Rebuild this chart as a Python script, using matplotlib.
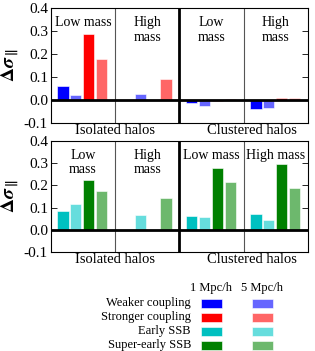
import matplotlib.pyplot as plt
from matplotlib.patches import Rectangle

plt.rcParams['font.family'] = ['Liberation Serif', 'DejaVu Serif']
plt.rcParams['mathtext.fontset'] = 'stix'

# sections: isolated low, isolated high, clustered low, clustered high
sections = ['Low mass', 'High mass', 'Low mass', 'High mass']

# top panel: coupling models (1 Mpc/h, 5 Mpc/h)
weak_1 = [0.059, 0.0, -0.015, -0.038]
weak_5 = [0.022, 0.025, -0.027, -0.034]
strong_1 = [0.287, 0.0, -0.005, 0.010]
strong_5 = [0.176, 0.090, 0.005, 0.007]

# bottom panel: SSB models
early_1 = [0.085, 0.0, 0.063, 0.072]
early_5 = [0.118, 0.066, 0.058, 0.045]
super_1 = [0.223, 0.0, 0.280, 0.296]
super_5 = [0.177, 0.142, 0.214, 0.189]

top_labels = ['Low mass', 'High\nmass', 'Low\nmass', 'High\nmass']
bot_labels = ['Low\nmass', 'High\nmass', 'Low mass', 'High mass']

legend_names = ['Weaker coupling', 'Stronger coupling', 'Early SSB', 'Super-early SSB']
colors_1 = ['#0000ff', '#ff0000', '#00c0c0', '#008000']
colors_5 = ['#6666ff', '#ff6666', '#66dddd', '#6db86d']

fig = plt.figure(figsize=(3.15, 3.51), dpi=100)
ax1 = fig.add_axes([0.161, 0.650, 0.817, 0.327])
ax2 = fig.add_axes([0.161, 0.282, 0.817, 0.316])

w = 0.175
offsets = [0.19, 0.39, 0.59, 0.79]


def draw_panel(ax, series, cols, labels):
    for k, (vals, c) in enumerate(zip(series, cols)):
        xs = [i + offsets[k] for i in range(4)]
        ax.bar(xs, vals, width=w, color=c, edgecolor='white', linewidth=0.4, zorder=2)
    ax.set_xlim(0, 4)
    ax.set_ylim(-0.1, 0.4)
    ax.axhline(0, color='black', lw=2, zorder=3)
    ax.axvline(2, color='black', lw=2)
    ax.axvline(1, color='#555555', lw=0.8)
    ax.axvline(3, color='#555555', lw=0.8)
    ax.set_xticks([])
    ax.set_yticks([-0.1, 0.0, 0.1, 0.2, 0.3, 0.4])
    ax.set_yticklabels(['-0.1', '0.0', '0.1', '0.2', '0.3', '0.4'], fontsize=11)
    ax.tick_params(axis='y', direction='in', right=True, length=4, width=0.6, pad=2)
    for s in ax.spines.values():
        s.set_linewidth(0.8)
    for i, lab in enumerate(labels):
        ax.text(i + 0.5, 0.365, lab, ha='center', va='top', fontsize=10,
                linespacing=1.15)
    ax.set_ylabel(r'$\mathbf{\Delta}\boldsymbol{\sigma}_{\mathbf{\parallel}}$',
                  fontsize=14, labelpad=2)
    ax.text(1.0, -0.105, 'Isolated halos', ha='center', va='top', fontsize=10.5)
    ax.text(3.13, -0.105, 'Clustered halos', ha='center', va='top', fontsize=10.5)


draw_panel(ax1, [weak_1, weak_5, strong_1, strong_5],
           [colors_1[0], colors_5[0], colors_1[1], colors_5[1]], top_labels)
draw_panel(ax2, [early_1, early_5, super_1, super_5],
           [colors_1[2], colors_5[2], colors_1[3], colors_5[3]], bot_labels)

# legend drawn in figure coordinates
W, H = 315.0, 351.0
fig.text(211 / W, 1 - 288 / H, '1 Mpc/h', ha='center', va='center', fontsize=9)
fig.text(262 / W, 1 - 288 / H, '5 Mpc/h', ha='center', va='center', fontsize=9)
for r, name in enumerate(legend_names):
    yc = 303 + 14 * r
    fig.text(191 / W, 1 - yc / H, name, ha='right', va='center', fontsize=9)
    for x0, c in [(201, colors_1[r]), (252, colors_5[r])]:
        fig.patches.append(Rectangle((x0 / W, 1 - (yc + 4.5) / H), 21 / W, 9 / H,
                                     transform=fig.transFigure, facecolor=c,
                                     edgecolor='white', linewidth=0.4))

fig.savefig('out.png', dpi=100)
